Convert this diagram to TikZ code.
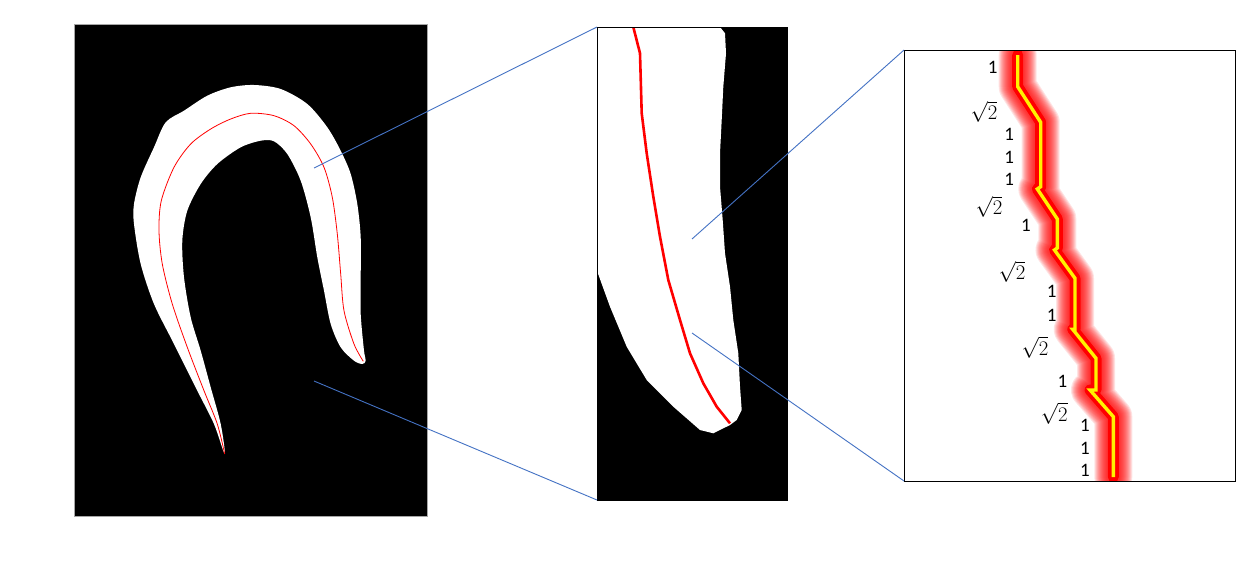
\documentclass[tikz,border=0pt]{standalone}
\usepackage{fontspec}
\setmainfont{Carlito}
\usetikzlibrary{positioning}
\definecolor{linkblue}{HTML}{4472C4}
\newcommand\trailpath{(1017.7,55) -- (1017.7,86.7) -- (1040.7,122.3) -- (1040.7,186.7)
  -- (1037.3,189) -- (1057.3,219) -- (1057.3,248) -- (1054.5,250) -- (1075,278.3)
  -- (1075,329.3) -- (1072.7,329.3) -- (1096,358.3) -- (1096,390) -- (1090,390)
  -- (1113.3,416.7) -- (1113.3,477)}

\begin{document}
\begin{tikzpicture}[x=1pt, y=-1pt,
  every node/.style={font=\fontsize{19}{22}\selectfont, inner sep=0pt},
  panel/.style={anchor=north west, inner sep=0pt, outer sep=0pt},
  zoomline/.style={draw=linkblue, line width=0.9pt},
  len/.style={anchor=center},
  root/.style={anchor=center, font=\fontsize{22}{24}\selectfont}]
  \useasboundingbox[fill=white] (0,0) rectangle (1236,570);

  % whole specimen
  \node[panel, fill=black, draw=gray!70, minimum width=353, minimum height=492] (whole) at (74,24) {};
  \fill[white] plot[smooth cycle, tension=0.5] coordinates {
    (224.7,454) (214,424) (197.3,390.7) (174,344) (154,304) (140.7,264) (134,224)
    (134,204) (140.7,177.3) (154,147.3) (165.7,122.3) (184,110.7) (207.3,95.7)
    (230.7,87.3) (254,85) (280.7,89) (307.3,104) (327.3,127.3) (340.7,150.7)
    (350.7,174) (357.3,204) (360.7,237.3) (360.7,277.3) (360.7,314) (364,350.7)
    (365.7,360.7) (362.3,364) (354,360.7) (340.7,347.3) (330.7,324) (324,290.7)
    (317.3,257.3) (310.7,217.3) (300.7,180.7) (287.3,154) (274,141.3) (260.7,140.7)
    (240.7,147.3) (217.3,164) (200.7,184) (187.3,210.7) (182.3,240.7) (184,277.3)
    (190.7,317.3) (200.7,350.7) (210.7,387.3) (220.7,424)};
  \draw[red, line width=0.8pt] plot[smooth, tension=0.5] coordinates {
    (224.7,454) (217.3,424) (204,390.7) (187.3,347.3) (172.3,304) (162.3,264)
    (159,230.7) (161.3,200.7) (174,167.3) (190.7,144) (210.7,129) (230.7,119)
    (250.7,113.3) (274,115.7) (294,125.7) (310.7,144) (324,167.3) (332.3,197.3)
    (337.3,234) (340.7,274) (344,310.7) (354,344) (363.3,361.3)};

  % enlarged tip
  \node[panel, fill=black, minimum width=190, minimum height=473] (tip) at (597,27) {};
  \begin{scope}
    \clip (tip.north west) rectangle (tip.south east);
    \fill[white] (597,27) -- (720,27) -- (725,33.3) -- (726,53.3) -- (723.3,86.7)
      -- (721.7,120) -- (720,153.3) -- (720,186.7) -- (722.7,220) -- (725,253.3)
      -- (730,286.7) -- (733.3,320) -- (738.3,353.3) -- (740,386.7) -- (741.7,410)
      -- (736.7,420) -- (730,425) -- (713.3,433.3) -- (700,430) -- (673.3,406.7)
      -- (646.7,380) -- (626.7,346.7) -- (610,306.7) -- (597.3,271.7) -- cycle;
    \draw[red, line width=2.6pt] (633.3,27) -- (640,53.3) -- (641.7,113.3)
      -- (646.7,153.3) -- (653.3,196.7) -- (660,236.7) -- (668.3,280) -- (680,320)
      -- (690,353.3) -- (703.3,383.3) -- (716.7,406.7) -- (730,423.3);
  \end{scope}
  \draw[black, line width=0.8pt] (tip.north west) rectangle (tip.south east);

  % skeleton steps
  \node[panel, fill=white, minimum width=331, minimum height=431] (steps) at (904,50) {};
  \begin{scope}
    \clip (steps.north west) rectangle (steps.south east);
    \foreach \w in {38,36,...,14} {
      \draw[red, line width=\w pt, opacity=0.11, line join=round, line cap=round] \trailpath;
    }
    \draw[red, line width=11pt, line join=round, line cap=round] \trailpath;
    \draw[yellow, line width=3.4pt] \trailpath;
  \end{scope}
  \draw[black, line width=0.9pt] (steps.north west) rectangle (steps.south east);

  \node[len] (s1) at (992.7,67.7) {1};
  \node[root] (s2) at (984,112) {$\sqrt{2}$};
  \node[len] (s3) at (1009.3,134.3) {1};
  \node[len] (s4) at (1009.3,157.7) {1};
  \node[len] (s5) at (1009.3,179.3) {1};
  \node[root] (s6) at (989,207) {$\sqrt{2}$};
  \node[len] (s7) at (1026,225) {1};
  \node[root] (s8) at (1012,272) {$\sqrt{2}$};
  \node[len] (s9) at (1051.7,291.7) {1};
  \node[len] (s10) at (1051.7,315) {1};
  \node[root] (s11) at (1035,347.3) {$\sqrt{2}$};
  \node[len] (s12) at (1062.3,381.7) {1};
  \node[root] (s13) at (1054.3,413.3) {$\sqrt{2}$};
  \node[len] (s14) at (1085,425) {1};
  \node[len] (s15) at (1085,448.3) {1};
  \node[len] (s16) at (1085,470) {1};

  % zoom connectors
  \coordinate (a1) at (314,168);
  \coordinate (a2) at (314,381);
  \coordinate (b1) at (692,239);
  \coordinate (b2) at (692,333);
  \draw[zoomline] (a1) -- (tip.north west);
  \draw[zoomline] (a2) -- (tip.south west);
  \draw[zoomline] (b1) -- (steps.north west);
  \draw[zoomline] (b2) -- (steps.south west);
\end{tikzpicture}
\end{document}
